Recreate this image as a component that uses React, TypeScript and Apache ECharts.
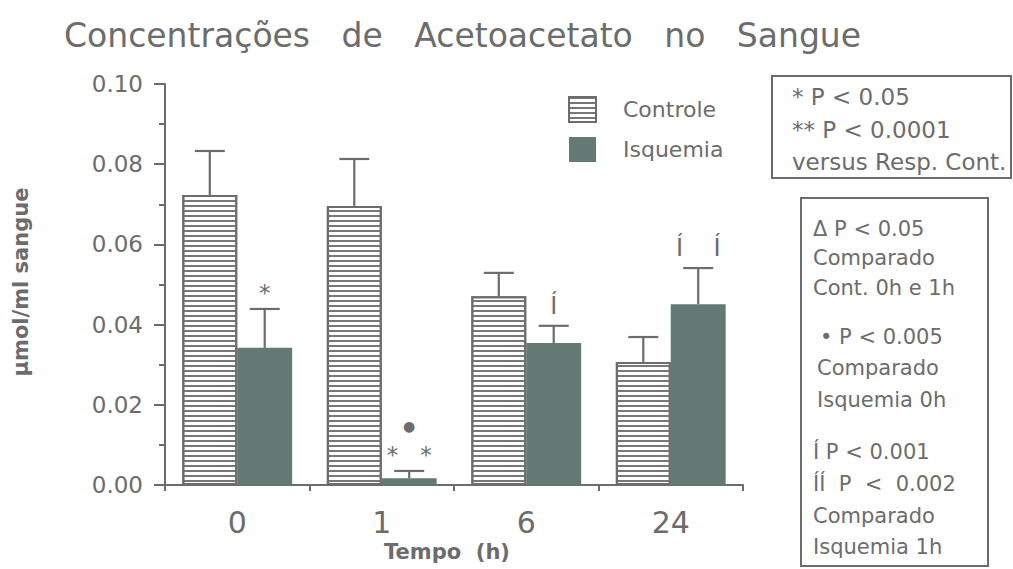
import React, { useEffect, useRef } from "react";
import * as echarts from "echarts";

const categories = ["0", "1", "6", "24"];
const controle = [0.0723, 0.0696, 0.0471, 0.0307];
const controleErr = [0.011, 0.0117, 0.0058, 0.0062];
const isquemia = [0.0342, 0.0017, 0.0354, 0.0451];
const isquemiaErr = [0.0097, 0.0018, 0.0043, 0.009];
const isqMarks = ["*", "*   *", "Í", "Í    Í"];
const isqMarks2 = ["", "●", "", ""];
const titleText = "Concentrações   de   Acetoacetato   no   Sangue";
const box1Lines = ["* P < 0.05", "** P < 0.0001", "versus Resp. Cont."];
const box2Lines = [
  "Δ P < 0.05",
  "Comparado",
  "Cont. 0h e 1h",
  "• P < 0.005",
  "Comparado",
  "Isquemia 0h",
  "Í P < 0.001",
  "ÍÍ  P  <  0.002",
  "Comparado",
  "Isquemia 1h",
];

const GRAY = "#6c6c6c";
const ISQ = "#627a73";
const FONT = "DejaVu Sans";

function errorSeries(vals: number[], errs: number[], side: number, marks?: string[], marks2?: string[]) {
  return {
    type: "custom",
    z: 5,
    silent: true,
    data: vals.map((v, i) => [i, v, v + errs[i]]),
    renderItem: (params: any, api: any) => {
      const i = api.value(0);
      const base = api.coord([i, api.value(1)]);
      const top = api.coord([i, api.value(2)]);
      const band = api.size([1, 0])[0];
      const bw = (band * 0.76) / 2;
      const x = base[0] + (side * bw) / 2;
      const st = { stroke: GRAY, lineWidth: 2.2 };
      const children: any[] = [
        { type: "line", shape: { x1: x, y1: base[1], x2: x, y2: top[1] }, style: st },
        { type: "line", shape: { x1: x - 15, y1: top[1], x2: x + 15, y2: top[1] }, style: st },
      ];
      if (marks && marks[params.dataIndex]) {
        const m = marks[params.dataIndex];
        const star = m.indexOf("*") >= 0;
        children.push({
          type: "text",
          x: x,
          y: top[1] - (star ? 16 : 20),
          style: {
            text: m,
            fontSize: star ? 23 : 24,
            fontFamily: FONT,
            fill: GRAY,
            align: "center",
            verticalAlign: "middle",
          },
        });
      }
      if (marks2 && marks2[params.dataIndex]) {
        children.push({
          type: "text",
          x: x,
          y: top[1] - 45,
          style: {
            text: marks2[params.dataIndex],
            fontSize: 14,
            fontFamily: FONT,
            fill: GRAY,
            align: "center",
            verticalAlign: "middle",
          },
        });
      }
      return { type: "group", children };
    },
  };
}

export default function App() {
  const ref = useRef<HTMLDivElement>(null);
  useEffect(() => {
    if (!ref.current) return;
    const chart = echarts.init(ref.current, undefined, { renderer: "svg" });
    const box2Y = [229, 258, 288, 337, 368, 400, 452, 484, 516, 547];
    const box2X = [813, 813, 813, 820, 817, 817, 813, 813, 813, 813];
    const graphics: any[] = [
      {
        type: "text",
        x: 64,
        y: 35,
        style: { text: titleText, fontSize: 33, fontFamily: FONT, fill: GRAY, verticalAlign: "middle" },
      },
      {
        type: "text",
        x: 21,
        y: 282,
        rotation: Math.PI / 2,
        style: {
          text: "µmol/ml sangue",
          fontSize: 21,
          fontWeight: "bold",
          fontFamily: FONT,
          fill: GRAY,
          align: "center",
          verticalAlign: "middle",
        },
      },
      {
        type: "text",
        x: 447,
        y: 552,
        style: {
          text: "Tempo  (h)",
          fontSize: 21,
          fontWeight: "bold",
          fontFamily: FONT,
          fill: GRAY,
          align: "center",
          verticalAlign: "middle",
        },
      },
      {
        type: "rect",
        shape: { x: 772, y: 76, width: 239, height: 102 },
        style: { fill: "none", stroke: GRAY, lineWidth: 2 },
      },
      {
        type: "rect",
        shape: { x: 801, y: 198, width: 187, height: 368 },
        style: { fill: "none", stroke: GRAY, lineWidth: 2 },
      },
    ];
    box1Lines.forEach((t, i) => {
      graphics.push({
        type: "text",
        x: 792,
        y: 97 + i * 32.5,
        style: { text: t, fontSize: 23, fontFamily: FONT, fill: GRAY, verticalAlign: "middle" },
      });
    });
    box2Lines.forEach((t, i) => {
      graphics.push({
        type: "text",
        x: box2X[i],
        y: box2Y[i],
        style: { text: t, fontSize: 21, fontFamily: FONT, fill: GRAY, verticalAlign: "middle" },
      });
    });

    chart.setOption({
      animation: false,
      backgroundColor: "#fff",
      textStyle: { fontFamily: FONT },
      grid: { left: 165, right: 270, top: 84, bottom: 84 },
      legend: {
        orient: "vertical",
        left: 568,
        top: 96,
        icon: "rect",
        itemWidth: 27,
        itemHeight: 25,
        itemGap: 14,
        padding: 0,
        textStyle: { fontSize: 22, color: GRAY, fontFamily: FONT, padding: [0, 0, 0, 22] },
        data: ["Controle", "Isquemia"],
      },
      xAxis: {
        type: "category",
        data: categories,
        axisLine: { lineStyle: { color: GRAY, width: 2 } },
        axisTick: { show: true, length: 6, lineStyle: { color: GRAY, width: 2 } },
        axisLabel: { fontSize: 30, color: GRAY, margin: 22, fontFamily: FONT },
      },
      yAxis: {
        type: "value",
        min: 0,
        max: 0.1,
        interval: 0.02,
        splitLine: { show: false },
        axisLine: { show: true, lineStyle: { color: GRAY, width: 2 } },
        axisTick: { show: true, length: 11, lineStyle: { color: GRAY, width: 2 } },
        minorTick: { show: true, splitNumber: 2, length: 6, lineStyle: { color: GRAY, width: 2 } },
        axisLabel: {
          fontSize: 23,
          color: GRAY,
          margin: 22,
          fontFamily: FONT,
          formatter: (v: number) => v.toFixed(2),
        },
      },
      series: [
        {
          name: "Controle",
          type: "bar",
          data: controle,
          barGap: "0%",
          barCategoryGap: "24%",
          itemStyle: {
            color: "#ffffff",
            borderColor: GRAY,
            borderWidth: 2,
            decal: {
              symbol: "rect",
              symbolSize: 1,
              dashArrayX: [1, 0],
              dashArrayY: [2, 2.4],
              rotation: 0,
              color: "#777777",
            },
          },
        },
        {
          name: "Isquemia",
          type: "bar",
          data: isquemia,
          barGap: "0%",
          barCategoryGap: "24%",
          itemStyle: { color: ISQ },
        },
        errorSeries(controle, controleErr, -1),
        errorSeries(isquemia, isquemiaErr, 1, isqMarks, isqMarks2),
      ],
      graphic: graphics,
    });
    return () => chart.dispose();
  }, []);
  return (
    <div
      ref={ref}
      style={{ position: "fixed", left: 0, top: 0, width: 1013, height: 569, background: "#fff" }}
    />
  );
}
